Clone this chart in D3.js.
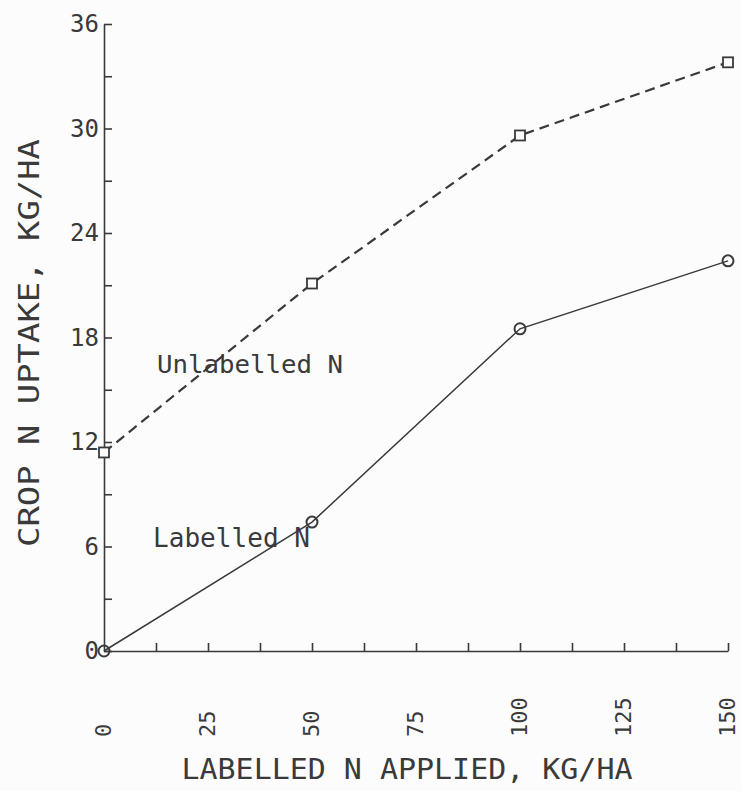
<!DOCTYPE html>
<html>
<head>
<meta charset="utf-8">
<script src="https://cdn.jsdelivr.net/npm/d3@7"></script>
<style>
  html, body { margin: 0; padding: 0; background: #fcfcfc; }
  svg { display: block; }
  text { font-family: "DejaVu Sans Mono", monospace; fill: #3a3a3a; }
</style>
</head>
<body>
<svg id="chart" width="741" height="791"></svg>
<script>
// Nitrogen rates applied (kg/ha)
const nApplied = [0, 50, 100, 150];
// Crop N uptake (kg/ha) from each source
const unlabelledUptake = [11.4, 21.1, 29.6, 33.8];
const labelledUptake = [0, 7.4, 18.5, 22.4];

const xTicks = d3.range(0, 150.01, 12.5);
const xTickLabels = [0, 25, 50, 75, 100, 125, 150];
const yTicks = d3.range(0, 36.01, 3);
const yTickLabels = [0, 6, 12, 18, 24, 30, 36];

const ink = "#3a3a3a";
const svg = d3.select("#chart");

const x = d3.scaleLinear().domain([0, 150]).range([104, 728]);
const y = d3.scaleLinear().domain([0, 36]).range([651, 24]);

// Y axis: ticks point inward, labels on every second tick
const yAxis = d3.axisLeft(y)
  .tickValues(yTicks)
  .tickSizeInner(-8)
  .tickSizeOuter(0)
  .tickPadding(5)
  .tickFormat(d => yTickLabels.includes(d) ? d3.format("d")(d) : "");

const gy = svg.append("g").attr("transform", `translate(${x(0)},0)`).call(yAxis);
gy.selectAll("path, line").attr("stroke", ink).attr("stroke-width", 1.6);
gy.selectAll("text").attr("font-size", 24).attr("fill", ink)
  .style("font-family", "'DejaVu Sans Mono', monospace");

// X axis: ticks point up, labels rotated
const xAxis = d3.axisBottom(x)
  .tickValues(xTicks)
  .tickSizeInner(-8)
  .tickSizeOuter(0)
  .tickFormat(d => xTickLabels.includes(d) ? d3.format("d")(d) : "");

const gx = svg.append("g").attr("transform", `translate(0,${y(0)})`).call(xAxis);
gx.selectAll("path, line").attr("stroke", ink).attr("stroke-width", 1.6);
gx.selectAll(".tick").filter(d => d === 0).select("line").remove();
gx.selectAll("text")
  .attr("font-size", 22).attr("fill", ink)
  .style("font-family", "'DejaVu Sans Mono', monospace")
  .attr("transform", "rotate(-90)")
  .attr("text-anchor", "start")
  .attr("x", -86)
  .attr("y", 0)
  .attr("dy", "0.3em");

// Axis titles
svg.append("text")
  .attr("x", 407).attr("y", 779)
  .attr("text-anchor", "middle")
  .attr("font-size", 29)
  .attr("textLength", 451).attr("lengthAdjust", "spacingAndGlyphs")
  .text("LABELLED N APPLIED, KG/HA");

svg.append("text")
  .attr("transform", "translate(39,343) rotate(-90)")
  .attr("text-anchor", "middle")
  .attr("font-size", 29)
  .attr("textLength", 408).attr("lengthAdjust", "spacingAndGlyphs")
  .text("CROP N UPTAKE, KG/HA");

// Series lines
const unlabelledPts = nApplied.map((n, i) => [n, unlabelledUptake[i]]);
const labelledPts = nApplied.map((n, i) => [n, labelledUptake[i]]);
const line = d3.line().x(d => x(d[0])).y(d => y(d[1]));

svg.append("path")
  .datum(unlabelledPts)
  .attr("d", line)
  .attr("fill", "none")
  .attr("stroke", ink)
  .attr("stroke-width", 2.2)
  .attr("stroke-dasharray", "10,6");

svg.append("path")
  .datum(labelledPts)
  .attr("d", line)
  .attr("fill", "none")
  .attr("stroke", ink)
  .attr("stroke-width", 1.5);

// Markers: squares for unlabelled N, circles for labelled N
svg.append("g").selectAll("rect")
  .data(unlabelledPts)
  .join("rect")
  .attr("x", d => x(d[0]) - 5)
  .attr("y", d => y(d[1]) - 5)
  .attr("width", 10).attr("height", 10)
  .attr("fill", "#fcfcfc")
  .attr("stroke", ink)
  .attr("stroke-width", 1.8);

svg.append("g").selectAll("circle")
  .data(labelledPts)
  .join("circle")
  .attr("cx", d => x(d[0]))
  .attr("cy", d => y(d[1]))
  .attr("r", 5.5)
  .attr("fill", "none")
  .attr("stroke", ink)
  .attr("stroke-width", 2);

// Series annotations
svg.append("text")
  .attr("x", 157).attr("y", 373)
  .attr("font-size", 25)
  .attr("textLength", 186).attr("lengthAdjust", "spacingAndGlyphs")
  .text("Unlabelled N");

svg.append("text")
  .attr("x", 153).attr("y", 547)
  .attr("font-size", 26)
  .attr("textLength", 157).attr("lengthAdjust", "spacingAndGlyphs")
  .text("Labelled N");
</script>
</body>
</html>
